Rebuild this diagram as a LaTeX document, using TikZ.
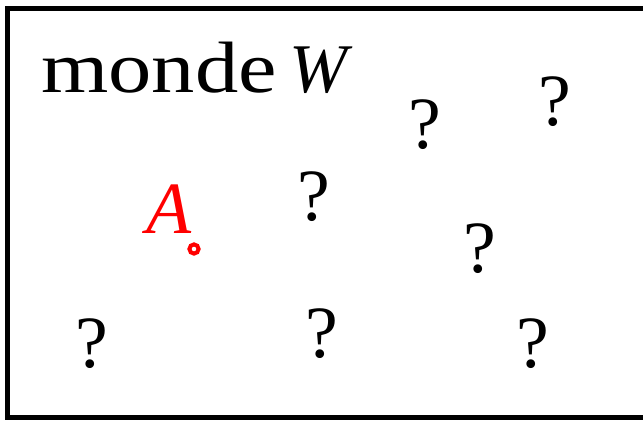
\documentclass[tikz,border=0pt]{standalone}
\usepackage{fontspec}
\setmainfont{Liberation Serif}
\newfontfamily\widefont[FakeStretch=1.19]{Liberation Serif}
\begin{document}
\begin{tikzpicture}[x=1bp,y=-1bp,
  qmark/.style={anchor=base,inner sep=0pt,font=\fontsize{74}{80}\selectfont},
  title/.style={anchor=base west,inner sep=0pt,font=\widefont\fontsize{73}{80}\selectfont}]
\useasboundingbox (0,0) rectangle (643,420);
\draw[line width=4.8bp] (7.5,8.5) rectangle (680,417.5);
\node[title] (t) at (41,92) {monde\hspace{0.17em}{\rmfamily\itshape\fontsize{70}{80}\selectfont W}};
\node[qmark] (q1) at (425,148) {?};
\node[qmark] (q2) at (555,125) {?};
\node[qmark] (q3) at (314,220) {?};
\node[qmark] (q4) at (480,272) {?};
\node[qmark] (q5) at (92,367) {?};
\node[qmark] (q6) at (322,357) {?};
\node[qmark] (q7) at (533,367) {?};
\node[qmark,text=red] (a) at (169,233) {\textit{A}};
\coordinate (p) at (194,249);
\draw[red,fill=white,line width=4bp] (p) circle[radius=4.6bp];
\end{tikzpicture}
\end{document}
